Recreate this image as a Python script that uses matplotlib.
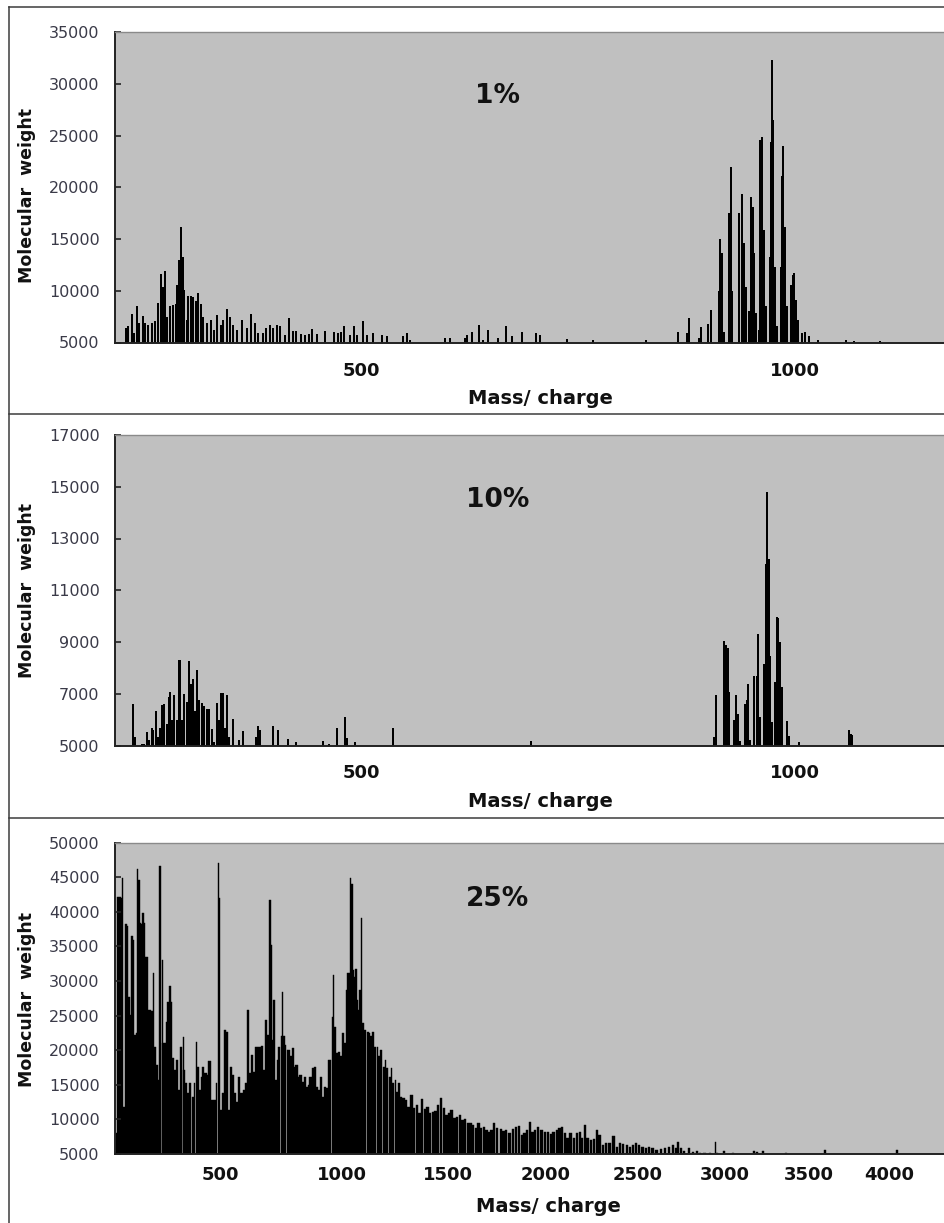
import matplotlib.pyplot as plt
from matplotlib.lines import Line2D
import numpy as np

# --- 1 % sample ---------------------------------------------------------
MZ_1 = [229.3, 231.2, 236.5, 238.5, 242.0, 244.6, 248.5, 251.5, 255.0, 258.9,
        262.7, 265.8, 269.6, 272.3, 274.6, 276.9, 280.0, 283.1, 286.5, 288.4,
        290.7, 292.6, 294.6, 296.4, 299.2, 301.0, 303.8, 306.8, 309.6, 312.6,
        315.3, 318.3, 322.2, 326.9, 330.6, 334.5, 338.3, 341.4, 346.0, 349.0,
        352.9, 356.8, 363.3, 368.3, 373.0, 377.9, 381.7, 387.5, 390.6, 395.2,
        399.0, 402.9, 406.7, 412.5, 416.6, 421.3, 425.1, 430.9, 435.5, 439.7,
        443.9, 448.9, 458.5, 469.2, 473.1, 476.6, 480.4, 487.3, 491.9, 495.7,
        502.7, 506.6, 514.2, 523.8, 529.6, 548.7, 552.6, 556.4, 596.8, 602.5,
        619.8, 621.8, 627.5, 636.0, 640.9, 646.7, 658.2, 667.0, 674.0, 685.5,
        701.6, 706.2, 737.3, 767.3, 828.3, 864.8, 875.9, 878.2, 889.4, 891.7,
        899.4, 902.8, 912.8, 913.9, 916.2, 918.2, 924.0, 925.9, 927.8, 935.8,
        938.6, 940.9, 943.2, 947.0, 948.9, 951.3, 952.7, 955.0, 958.8, 960.0,
        962.3, 964.2, 966.6, 971.2, 972.3, 973.5, 975.0, 977.3, 979.6, 983.5,
        984.6, 986.1, 988.4, 991.1, 995.7, 997.3, 999.2, 1001.1, 1003.8, 1008.4,
        1011.1, 1015.7, 1026.8, 1058.4, 1068.0, 1097.9]
MW_1 = [6380, 6550, 7740, 5900, 8540, 6870, 7600, 6870, 6700, 6930,
        7090, 8800, 11630, 10400, 11860, 7510, 8480, 8640, 8740, 10570,
        12990, 16140, 13300, 10090, 7190, 9510, 9510, 9440, 9030, 9770,
        8740, 7510, 6870, 7190, 6220, 7670, 6700, 7190, 8220, 7510,
        6700, 6220, 7190, 6380, 7770, 6930, 5900, 5900, 6380, 6700,
        6380, 6700, 6550, 5740, 7410, 6130, 6130, 5800, 5740, 5800,
        6290, 5800, 6130, 6060, 5900, 6030, 6550, 5740, 6550, 5740,
        7030, 5740, 5900, 5740, 5640, 5580, 5900, 5260, 5420, 5420,
        5480, 5740, 6060, 6700, 5260, 6220, 5480, 6600, 5600, 6000,
        5900, 5700, 5300, 5200, 5260, 6000, 5900, 7350, 5420, 6450,
        6800, 8160, 9930, 15000, 13630, 6060, 17560, 21940, 9930, 17560,
        19360, 14600, 10400, 8000, 19040, 18140, 13630, 7830, 6220, 24580,
        24840, 15880, 8480, 13300, 24420, 32300, 26500, 12340, 6550, 12340,
        21040, 23940, 16200, 8480, 10570, 11540, 11700, 9120, 7190, 5900,
        6060, 5580, 5260, 5260, 5190, 5190]

# --- 10 % sample --------------------------------------------------------
MZ_10 = [237.7, 239.6, 248.1, 250.4, 253.1, 255.8, 258.9, 260.7, 263.5, 265.8,
         268.4, 271.1, 273.4, 276.2, 278.5, 280.3, 282.6, 284.9, 287.7, 290.3,
         291.8, 293.8, 296.1, 299.2, 301.5, 303.8, 306.8, 309.1, 311.4, 313.4,
         316.5, 319.1, 322.2, 324.9, 328.0, 330.6, 333.7, 336.4, 339.0, 341.4,
         343.7, 345.3, 348.3, 352.9, 359.4, 363.7, 378.7, 381.0, 383.6, 399.0,
         404.7, 415.6, 425.1, 455.9, 463.5, 472.0, 481.9, 483.5, 493.1, 537.2,
         695.5,
         907.0, 908.6, 918.5, 920.5, 922.4, 924.0, 930.1, 932.4, 934.7,
         936.6, 942.4, 944.3, 945.8, 948.1, 952.7, 955.8, 957.3, 959.3, 964.2,
         966.2, 968.0, 969.6, 971.2, 973.1, 977.3, 978.9, 980.7, 982.7, 984.6,
         991.1, 993.4, 1004.6, 1061.8, 1064.1, 1066.0]
MW_10 = [6610, 5320, 5060, 5060, 5520, 5220, 5680, 5580, 6350, 5320,
         5680, 6550, 6610, 5840, 6870, 7060, 5970, 6970, 5970, 8290,
         8290, 5970, 7000, 6680, 8260, 7360, 7580, 6350, 7900, 6740,
         6640, 6510, 6420, 6420, 5650, 5130, 6640, 5970, 7030, 7030,
         5680, 6940, 5320, 6020, 5220, 5550, 5320, 5770, 5580, 5740,
         5610, 5260, 5130, 5170, 5050, 5680, 6120, 5280, 5130, 5680,
         5170,
         5320, 6970, 9040, 8870, 8780, 7060, 5970, 6940, 6200,
         5190, 6610, 6740, 7360, 5220, 7670, 7670, 9300, 6100, 8160,
         12030, 14800, 12220, 8440, 5900, 7450, 9970, 9940, 9000, 7260,
         5940, 5350, 5130, 5610, 5450, 5390]

# --- 25 % sample --------------------------------------------------------
MZ_25 = [154, 159, 164, 169, 172, 176, 181, 186, 190, 194,
         198, 203, 208, 212, 216, 220, 224, 228, 232, 236,
         241, 245, 249, 254, 260, 266, 270, 277, 283, 287,
         294, 298, 305, 309, 314, 320, 325, 330, 336, 343,
         350, 357, 364, 368, 375, 382, 389, 397, 404, 411,
         416, 423, 431, 435, 443, 452, 459, 469, 477, 484,
         491, 496, 501, 509, 517, 524, 532, 540, 547, 555,
         562, 570, 578, 588, 596, 604, 612, 620, 628, 636,
         644, 652, 660, 668, 676, 684, 692, 697, 703, 709,
         717, 725, 731, 739, 744, 750, 755, 764, 769, 777,
         786, 794, 802, 811, 819, 828, 837, 845, 854, 862,
         871, 880, 888, 897, 906, 914, 923, 932, 941, 950,
         956, 961, 967, 976, 985, 994, 1003, 1012, 1021, 1027,
         1033, 1039, 1045, 1051, 1057, 1063, 1069, 1075, 1081, 1088,
         1096, 1105, 1115, 1124, 1133, 1142, 1151, 1161, 1170, 1179,
         1189, 1198, 1207, 1217, 1226, 1235, 1245, 1254, 1263, 1272,
         1282, 1295, 1307, 1320, 1333, 1346, 1359, 1372, 1385, 1398,
         1411, 1424, 1437, 1450, 1463, 1477, 1490, 1503, 1516, 1530,
         1543, 1556, 1569, 1583, 1596, 1610, 1623, 1637, 1650, 1663,
         1677, 1690, 1703, 1717, 1730, 1743, 1764, 1778, 1792, 1809,
         1826, 1844, 1858, 1872, 1886, 1900, 1914, 1928, 1942, 1959,
         1976, 1994, 2011, 2025, 2040, 2057, 2072, 2086, 2101, 2115,
         2130, 2148, 2165, 2180, 2194, 2209, 2223, 2241, 2259, 2273,
         2288, 2306, 2325, 2343, 2365, 2383, 2402, 2420, 2438, 2457,
         2475, 2490, 2509, 2527, 2546, 2564, 2583, 2606, 2629, 2653,
         2676, 2699, 2715, 2728, 2745, 2765, 2790, 2813, 2837, 2856,
         2881, 2911, 2946, 2954, 2994, 3049, 3173, 3189, 3225, 3365,
         3599, 4052]
MW_25 = [8000, 42200, 42200, 42000, 44860, 11800, 38260, 38000, 27750, 25100,
         36500, 35900, 22200, 22450, 46160, 44600, 38350, 38200, 39900, 38350,
         33500, 33500, 25800, 25800, 25600, 31200, 20500, 17870, 15700, 46640,
         33050, 21000, 21000, 24100, 27000, 29340, 27000, 18830, 17150, 18600,
         14250, 20500, 21870, 17150, 15200, 13770, 15200, 13290, 15200, 21240,
         17630, 14250, 16180, 17630, 16660, 16420, 18500, 12800, 12800, 15200,
         47000, 42000, 11360, 13770, 22930, 22700, 11360, 17630, 16420, 13770,
         12570, 16180, 13770, 14250, 15200, 25800, 16660, 19300, 16900, 20500,
         20500, 20500, 20600, 17150, 24400, 22200, 41700, 35200, 21500, 27270,
         15700, 18600, 20500, 22000, 28470, 22000, 20760, 20000, 20000, 19100,
         20280, 17630, 17870, 16180, 16420, 15460, 16180, 14740, 15000, 16180,
         17390, 17630, 14740, 14250, 16180, 13290, 14740, 14500, 18600, 18600,
         24860, 30900, 23400, 19560, 19800, 19100, 22450, 21000, 28700, 31200,
         31100, 44960, 44100, 31600, 30600, 31700, 27270, 25800, 28700, 39100,
         23900, 22930, 22700, 22450, 22000, 22700, 20500, 20500, 19100, 20000,
         17630, 18600, 17390, 16180, 17390, 15200, 15700, 14000, 15200, 13290,
         13050, 12800, 11840, 13530, 11600, 12090, 10880, 12900, 11460, 11840,
         10880, 11120, 11270, 12090, 13150, 11600, 10640, 10880, 11360, 10160,
         10400, 10640, 9920, 10010, 9430, 9530, 9190, 8710, 9430, 8710,
         8950, 8470, 8230, 8470, 9530, 8710, 8570, 8330, 8470, 7990,
         8570, 8950, 9050, 7750, 7990, 8470, 9680, 8230, 8470, 8950,
         8470, 8230, 8230, 7890, 8230, 8470, 8710, 8950, 7990, 7270,
         8080, 7270, 7990, 8230, 7270, 9190, 7270, 7020, 7120, 8470,
         7750, 6300, 6540, 6540, 7600, 6060, 6540, 6450, 6300, 6060,
         6300, 6540, 6300, 6060, 5820, 6060, 5820, 5580, 5670, 5820,
         6060, 6300, 5820, 6780, 5820, 5480, 5820, 5340, 5480, 5190,
         5190, 5100, 6780, 5150, 5480, 5100, 5480, 5340, 5430, 5190,
         5580, 5580]

TAGS = ['1%', '10%', '25%']
Y_TICKS = [list(range(5000, 35001, 5000)),
           list(range(5000, 17001, 2000)),
           list(range(5000, 50001, 5000))]
X_TICKS = [[500, 1000], [500, 1000],
           [500, 1000, 1500, 2000, 2500, 3000, 3500, 4000]]

W, H = 945, 1223
GREY = '#c0c0c0'


def px_box(left, top, right, bottom):
    return [left / W, 1 - bottom / H, (right - left) / W, (bottom - top) / H]


def tof_axis(ax):
    # m/z axis is compressed towards high mass
    fwd = lambda m: np.power(np.clip(m, 0, None), 0.75)
    inv = lambda t: np.power(np.clip(t, 0, None), 4.0 / 3.0)
    ax.set_xscale('function', functions=(fwd, inv))


def dress(ax, yticks, xticks, tag, tag_y, xlab_xy, ylab_xy, xpad):
    ax.set_facecolor(GREY)
    ax.set_ylim(yticks[0], yticks[-1])
    ax.set_yticks(yticks)
    ax.set_xticks(xticks)
    ax.set_xticklabels([str(t) for t in xticks], fontsize=13,
                       fontweight='bold', color='#111111')
    ax.tick_params(axis='x', length=0, pad=xpad)
    ax.tick_params(axis='y', direction='in', length=4, width=1.2,
                   color='#222222', pad=11, labelsize=11.5,
                   labelcolor='#3a3a48')
    ax.spines['right'].set_visible(False)
    ax.spines['top'].set_color('#8a8a8a')
    ax.spines['top'].set_linewidth(1.0)
    for s in ('left', 'bottom'):
        ax.spines[s].set_color('#222222')
        ax.spines[s].set_linewidth(1.4)

    ax.set_xlabel('Mass/ charge', fontsize=14, fontweight='bold',
                  color='#111111')
    ax.xaxis.set_label_coords(*xlab_xy)
    ax.set_ylabel('Molecular  weight', fontsize=12.5, fontweight='bold',
                  color='#111111')
    ax.yaxis.set_label_coords(*ylab_xy)
    ax.text(0.461, tag_y, tag, transform=ax.transAxes, ha='center',
            va='center', fontsize=19, fontweight='bold', color='#111111')


fig = plt.figure(figsize=(W / 100, H / 100), dpi=100)

# top: 1 %
ax1 = fig.add_axes(px_box(115, 32, 945, 342.5))
ax1.bar(MZ_1, MW_1, width=2.4, color='black', linewidth=0)
ax1.set_xlim(216.6, 1172.8)
dress(ax1, Y_TICKS[0], X_TICKS[0], TAGS[0], 0.795,
      (0.512, -0.150), (-0.095, 0.475), 14)

# middle: 10 %
ax2 = fig.add_axes(px_box(115, 435, 945, 745.5))
ax2.bar(MZ_10, MW_10, width=2.4, color='black', linewidth=0)
ax2.set_xlim(216.6, 1172.8)
dress(ax2, Y_TICKS[1], X_TICKS[1], TAGS[1], 0.791,
      (0.512, -0.150), (-0.095, 0.5), 13)

# bottom: 25 %, contiguous bins
ax3 = fig.add_axes(px_box(115, 842.7, 945, 1154))
tof_axis(ax3)
mz3 = np.array(MZ_25, dtype=float)
w3 = np.clip(np.diff(mz3, append=mz3[-1] + 12), 2, 12)
ax3.bar(mz3, MW_25, width=w3, color='black', edgecolor='black',
        linewidth=0.3)
ax3.set_xlim(150, 4356)
dress(ax3, Y_TICKS[2], X_TICKS[2], TAGS[2], 0.819,
      (0.522, -0.138), (-0.095, 0.495), 9)

# panel frames
frame = dict(color='#3c3c3c', linewidth=1.1, transform=fig.transFigure)
fig.add_artist(Line2D([9.5 / W, 9.5 / W], [1 - 7 / H, 0], **frame))
for y in (7, 414, 818):
    fig.add_artist(Line2D([9.5 / W, 1], [1 - y / H, 1 - y / H], **frame))

fig.savefig('out.png', dpi=100)
